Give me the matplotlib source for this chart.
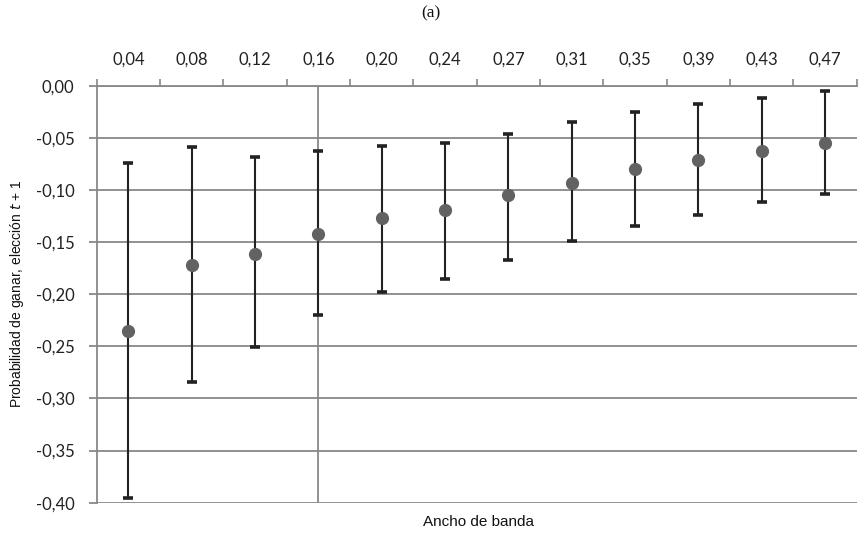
import numpy as np
import matplotlib
matplotlib.use("Agg")
from matplotlib import pyplot as plt
from matplotlib.ticker import FixedLocator, NullFormatter

# ancho de banda (etiquetas del eje superior)
bandas = ["0,04", "0,08", "0,12", "0,16", "0,20", "0,24",
          "0,27", "0,31", "0,35", "0,39", "0,43", "0,47"]
# estimaciones puntuales
estim = [-0.235, -0.172, -0.161, -0.142, -0.127, -0.119,
         -0.105, -0.093, -0.080, -0.071, -0.063, -0.055]
# limites superior / inferior de los intervalos
sup = [-0.074, -0.059, -0.068, -0.063, -0.058, -0.055,
       -0.046, -0.035, -0.025, -0.018, -0.012, -0.005]
inf = [-0.395, -0.284, -0.251, -0.220, -0.198, -0.185,
       -0.167, -0.149, -0.135, -0.124, -0.112, -0.104]
banda_elegida = "0,16"

yticks = [0.00, -0.05, -0.10, -0.15, -0.20, -0.25, -0.30, -0.35, -0.40]

x = np.arange(len(bandas))
estim = np.array(estim)
yerr = [estim - np.array(inf), np.array(sup) - estim]

fig = plt.figure(figsize=(8.63, 5.39), dpi=100)
ax = fig.add_axes([0.112, 0.0673, 0.8807, 0.7737])

gris = "#888888"
for y in yticks:
    ax.axhline(y, color=gris, lw=1.3, zorder=1)
ax.axvline(bandas.index(banda_elegida), color=gris, lw=1.3, zorder=1)

ax.errorbar(x, estim, yerr=yerr, fmt="none", ecolor="#222222",
            elinewidth=1.5, capsize=3.5, capthick=2.6, zorder=2)
ax.plot(x, estim, "o", color="#626262", ms=8.5, zorder=3)

ax.set_xlim(-0.5, len(bandas) - 0.5)
ax.set_ylim(-0.40, 0.0)

# eje x arriba, marcas entre categorias
ax.xaxis.tick_top()
ax.set_xticks(x)
ax.set_xticklabels(bandas)
ax.xaxis.set_minor_locator(FixedLocator(np.arange(len(bandas) + 1) - 0.5))
ax.tick_params(axis="x", which="major", length=0, pad=13)
ax.tick_params(axis="x", which="minor", length=5, width=1.2, color=gris)
ax.xaxis.set_minor_formatter(NullFormatter())

ax.set_yticks(yticks)
ax.set_yticklabels([("%.2f" % v).replace(".", ",") for v in yticks])
ax.tick_params(axis="y", length=6, width=1.3, color=gris, pad=10)

for lab in ax.get_xticklabels() + ax.get_yticklabels():
    lab.set_fontfamily("Lato")
    lab.set_fontsize(12)
    lab.set_color("#222222")

for s in ["right", "bottom"]:
    ax.spines[s].set_visible(False)
ax.spines["left"].set_color(gris)
ax.spines["left"].set_linewidth(1.3)
ax.spines["top"].set_color(gris)
ax.spines["top"].set_linewidth(1.3)

fig.text(17 / 863, 1 - 294 / 539, "Probabilidad de ganar, elección $\\it{t}$ + 1",
         rotation=90, ha="center", va="center", fontsize=10,
         family="Liberation Sans", color="#111111")
fig.text(478 / 863, 1 - 522 / 539, "Ancho de banda", ha="center", va="center",
         fontsize=11, family="Liberation Sans", color="#111111")
fig.text(431 / 863, 1 - 13 / 539, "(a)", ha="center", va="center",
         fontsize=12.5, family="Liberation Serif", color="#111111")

fig.savefig("out.png", dpi=100)
